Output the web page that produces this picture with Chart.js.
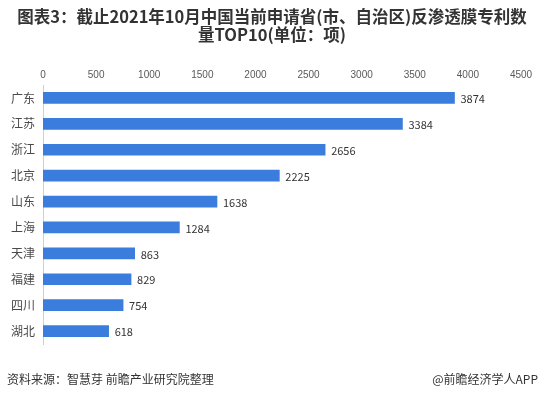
<!DOCTYPE html>
<html>
<head>
<meta charset="utf-8">
<script src="https://cdn.jsdelivr.net/npm/chart.js@4/dist/chart.umd.min.js"></script>
<style>
  html, body { margin: 0; padding: 0; background: #fff; }
  #wrap { width: 544px; height: 396px; position: relative; }
</style>
</head>
<body>
<div id="wrap"><canvas id="patentChart" width="544" height="396"></canvas></div>
<script>
// Donnees
var provinces = ["广东", "江苏", "浙江", "北京", "山东", "上海", "天津", "福建", "四川", "湖北"];
var patents = [3874, 3384, 2656, 2225, 1638, 1284, 863, 829, 754, 618];
var titleLines = ["图表3：截止2021年10月中国当前申请省(市、自治区)反渗透膜专利数", "量TOP10(单位：项)"];
var sourceText = "资料来源：智慧芽 前瞻产业研究院整理";
var brandText = "@前瞻经济学人APP";

var cjk = '"Microsoft YaHei", "Noto Sans CJK SC", sans-serif';

// Titre, source et valeurs des barres
var decorPlugin = {
    id: 'decor',
    afterDatasetsDraw: function (chart) {
        var c = chart.ctx;
        var meta = chart.getDatasetMeta(0);
        c.save();
        c.font = '11px ' + cjk;
        c.fillStyle = '#333';
        c.textAlign = 'left';
        c.textBaseline = 'middle';
        meta.data.forEach(function (bar, i) {
            c.fillText(patents[i], bar.x + 6, bar.y + 1);
        });
        c.restore();
    },
    afterDraw: function (chart) {
        var c = chart.ctx;
        c.save();
        c.fillStyle = '#333';
        c.textAlign = 'center';
        c.textBaseline = 'middle';
        c.font = 'bold 16.5px ' + cjk;
        c.fillText(titleLines[0], 272, 17);
        c.fillText(titleLines[1], 272, 35);
        c.font = '12px ' + cjk;
        c.textAlign = 'left';
        c.fillText(sourceText, 7, 379);
        c.textAlign = 'right';
        c.fillText(brandText, 538, 379);
        c.restore();
    }
};

var ctx = document.getElementById("patentChart");
var myChart = new Chart(ctx, {
    type: 'bar',
    data: {
        labels: provinces,
        datasets: [{
            data: patents,
            backgroundColor: "#3b7ddd",
            barThickness: 11
        }]
    },
    options: {
        indexAxis: 'y',
        responsive: false,
        animation: false,
        layout: {
            padding: { left: 0, right: 23, top: 60, bottom: 52 }
        },
        scales: {
            x: {
                position: 'top',
                min: 0,
                max: 4500,
                afterFit: function (scale) { scale.height = 25; },
                grid: { display: false, drawTicks: false },
                border: { display: false },
                ticks: {
                    stepSize: 500,
                    color: '#595959',
                    font: { size: 10, family: 'Arial, "Liberation Sans", sans-serif' },
                    padding: 4,
                    maxRotation: 0,
                    callback: function (v) { return String(v); }
                }
            },
            y: {
                afterFit: function (scale) { scale.width = 43; },
                grid: { display: false, drawTicks: false },
                border: { display: true, color: '#d0d0d0', width: 1 },
                ticks: {
                    color: '#4a4a4a',
                    font: { size: 12, family: cjk },
                    padding: 8
                }
            }
        },
        plugins: {
            legend: { display: false },
            tooltip: { enabled: false }
        }
    },
    plugins: [decorPlugin]
});
</script>
</body>
</html>
